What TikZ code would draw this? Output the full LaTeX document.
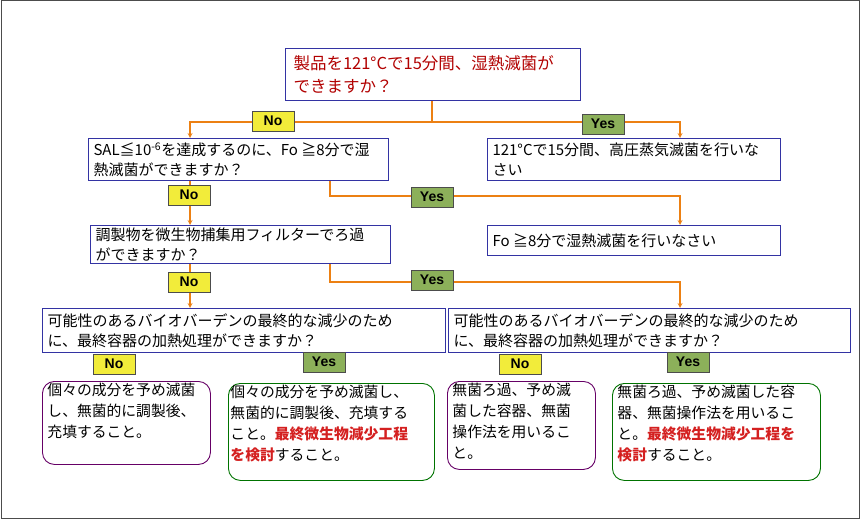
\documentclass[tikz,border=0pt]{standalone}
\usepackage{fontspec}
\setmainfont{Liberation Sans}
\newfontfamily\jp{Noto Sans CJK JP}
\newcommand{\bx}[3]{\parbox[c][#2pt][c]{#1pt}{\raggedright #3}}
\newcommand{\tbx}[3]{\parbox[c][#2pt][t]{#1pt}{\raggedright\vspace*{2pt}#3}}
\begin{document}
\begin{tikzpicture}[x=1pt,y=-1pt,
  q/.style={draw=blue!55!black!80,line width=1pt,fill=white,anchor=north west,inner xsep=5pt,inner ysep=0pt,font=\jp\fontsize{15}{20}\selectfont},
  r/.style={draw,line width=0.9pt,rounded corners=12pt,anchor=north west,inner xsep=5pt,inner ysep=0pt,font=\jp\fontsize{14.8}{21}\selectfont},
  no/.style={draw=black!70,line width=1pt,font=\bfseries\fontsize{14}{14}\selectfont,minimum width=42,minimum height=20,inner sep=0pt},
  yes/.style={no},
  ar/.style={draw=orange!70!brown,line width=1.2pt,->,>={stealth}},
  ln/.style={draw=orange!70!brown,line width=1.2pt}]
\useasboundingbox (0,0) rectangle (860,519);
\draw[black!70,line width=1pt] (1,1) rectangle (859,518);
\definecolor{yes}{HTML}{8CB05A}
\definecolor{noc}{HTML}{F2EC3A}
\definecolor{rt}{HTML}{D42020}
\tikzset{no/.append style={fill=noc},yes/.append style={fill=yes}}
% boxes
\node[q,inner xsep=8pt,text=red!70!black,font=\jp\fontsize{16.5}{23}\selectfont] (a) at (285,48) {\bx{279}{52}{製品を121°Cで15分間、湿熱滅菌が\\できますか？}};
\node[q] (b) at (88,138) {\bx{290}{42}{SAL≦10\textsuperscript{-6}を達成するのに、\textit{Fo} ≧8分で湿\\熱滅菌ができますか？}};
\node[q] (c) at (487,138) {\bx{283}{42}{121°Cで15分間、高圧蒸気滅菌を行いな\\さい}};
\node[q] (d) at (90,225) {\bx{290}{38}{調製物を微生物捕集用フィルターでろ過\\ができますか？}};
\node[q] (e) at (487,225) {\bx{283}{30}{\textit{Fo} ≧8分で湿熱滅菌を行いなさい}};
\node[q] (f) at (42,308) {\bx{393}{44}{可能性のあるバイオバーデンの最終的な減少のため\\に、最終容器の加熱処理ができますか？}};
\node[q] (g) at (448,308) {\bx{392}{44}{可能性のあるバイオバーデンの最終的な減少のため\\に、最終容器の加熱処理ができますか？}};
\node[r,draw=violet!80!black] (h) at (42,381) {\tbx{158}{83}{個々の成分を予め滅菌\\し、無菌的に調製後、\\充填すること。}};
\node[r,draw=green!45!black,inner xsep=2pt] (i) at (228,383) {\tbx{202}{97}{個々の成分を予め滅菌し、\\無菌的に調製後、充填する\\こと。\textcolor{rt}{\bfseries 最終微生物減少工程}\\\textcolor{rt}{\bfseries を検討}すること。}};
\node[r,draw=violet!80!black] (j) at (447,381) {\tbx{138}{88}{無菌ろ過、予め滅\\菌した容器、無菌\\操作法を用いるこ\\と。}};
\node[r,draw=green!45!black] (k) at (612,383) {\tbx{198}{97}{無菌ろ過、予め滅菌した容\\器、無菌操作法を用いるこ\\と。\textcolor{rt}{\bfseries 最終微生物減少工程を}\\\textcolor{rt}{\bfseries 検討}すること。}};
% connectors
\coordinate (t1) at (432,122);
\coordinate (t2) at (190,122);
\coordinate (t3) at (680,122);
\draw[ln] (a.south -| t1) -- (t1);
\draw[ar] (t1) -- (t2) -- (b.north -| t2);
\draw[ar] (t1) -- (t3) -- (c.north -| t3);
\node[no] (n1) at (273,121) {No};
\node[yes] (y1) at (603,124) {Yes};
\coordinate (u1) at (330,196);
\coordinate (u2) at (680,196);
\draw[ar] (b.south -| t2) -- (d.north -| t2);
\draw[ar] (b.south -| u1) -- (u1) -- (u2) -- (e.north -| u2);
\node[no] (n2) at (189,195) {No};
\node[yes] (y2) at (432,197) {Yes};
\coordinate (v1) at (330,282);
\coordinate (v2) at (680,282);
\draw[ar] (d.south -| t2) -- (f.north -| t2);
\draw[ar] (d.south -| v1) -- (v1) -- (v2) -- (g.north -| v2);
\node[no] (n3) at (189,282) {No};
\node[yes] (y3) at (432,280) {Yes};
\node[no] (n4) at (114,364) {No};
\node[yes] (y4) at (324,362) {Yes};
\node[no] (n5) at (520,364) {No};
\node[yes] (y5) at (688,362) {Yes};
\end{tikzpicture}
\end{document}
